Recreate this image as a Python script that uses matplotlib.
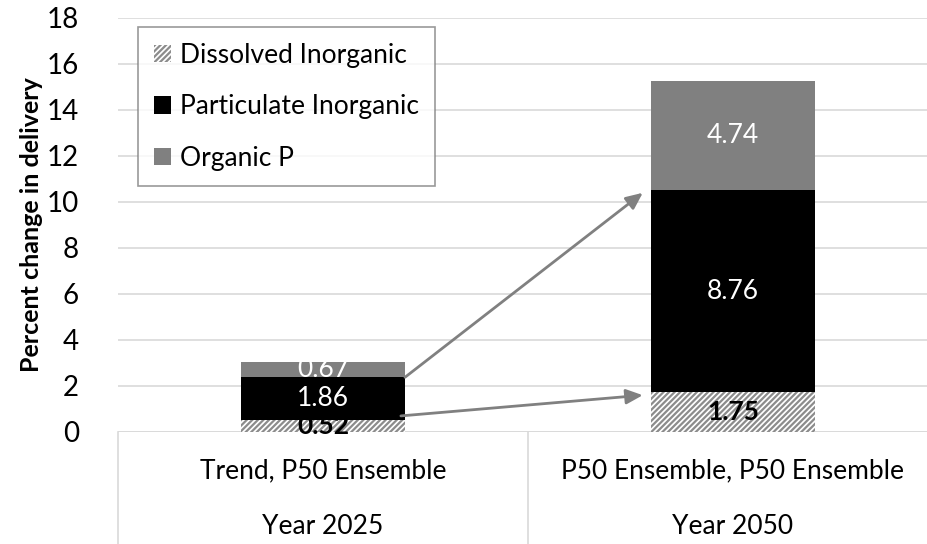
import matplotlib.pyplot as plt
import matplotlib.transforms as mtransforms
from matplotlib.patches import Patch

plt.rcParams['font.family'] = ['Lato', 'DejaVu Sans']
plt.rcParams['hatch.linewidth'] = 1.6

scenarios = ['Trend, P50 Ensemble', 'P50 Ensemble, P50 Ensemble']
years = ['Year 2025', 'Year 2050']
dissolved = [0.52, 1.75]
particulate = [1.86, 8.76]
organic = [0.67, 4.74]

fig = plt.figure(figsize=(9.28, 5.44), dpi=100)
ax = fig.add_axes([118/928, 1-432/544, 820/928, 414/544])

x = [0, 1]
w = 0.4
b1 = ax.bar(x, dissolved, w, color='white', edgecolor='#8c8c8c', hatch='//////', linewidth=0, zorder=2)
b2 = ax.bar(x, particulate, w, bottom=dissolved, color='black', zorder=2)
bot3 = [d + p for d, p in zip(dissolved, particulate)]
b3 = ax.bar(x, organic, w, bottom=bot3, color='#808080', zorder=2)

ax.bar_label(b1, labels=[f'{v:.2f}' for v in dissolved], label_type='center',
             fontsize=19, fontweight='bold', color='black', zorder=3)
ax.bar_label(b2, labels=[f'{v:.2f}' for v in particulate], label_type='center',
             fontsize=19, color='white')
ax.bar_label(b3, labels=[f'{v:.2f}' for v in organic], label_type='center',
             fontsize=19, color='white')

# arrows between the two bars
arrow_kw = dict(arrowstyle='-|>,head_length=1.0,head_width=0.45', color='#808080', lw=2,
                shrinkA=0, shrinkB=0)
ax.annotate('', xy=(1 - w/2 - 0.02, 10.4), xytext=(w/2, bot3[0]), arrowprops=arrow_kw, zorder=4)
ax.annotate('', xy=(1 - w/2 - 0.02, 1.6), xytext=(w/2 - 0.01, 0.7), arrowprops=arrow_kw, zorder=4)

ax.set_xlim(-0.5, 1.5)
ax.set_ylim(0, 18)
ax.set_yticks(range(0, 19, 2))
ax.tick_params(axis='y', length=0, labelsize=20, pad=28)
ax.set_xticks([])
ax.grid(axis='y', color='#d9d9d9', lw=1.2, zorder=0)
for s in ax.spines.values():
    s.set_visible(False)
ax.axhline(0, color='#d9d9d9', lw=1.2, zorder=1)
ax.set_ylabel('Percent change in delivery', fontsize=18, fontweight='bold', labelpad=3)

# category table under the axis
trans = mtransforms.blended_transform_factory(ax.transData, ax.transAxes)
ylow = -112/414
for xv in [-0.5, 0.5, 1.5]:
    ax.plot([xv, xv], [0, ylow], color='#d9d9d9', lw=1.2, transform=trans, clip_on=False)
for xv, s, yr in zip(x, scenarios, years):
    ax.text(xv, -39/414, s, transform=trans, ha='center', va='center', fontsize=19)
    ax.text(xv, -94/414, yr, transform=trans, ha='center', va='center', fontsize=19)

handles = [Patch(facecolor='white', edgecolor='#8c8c8c', hatch='//////', linewidth=0),
           Patch(facecolor='black'),
           Patch(facecolor='#808080')]
leg = ax.legend(handles, ['Dissolved Inorganic', 'Particulate Inorganic', 'Organic P'],
                loc='upper left', bbox_to_anchor=(138/928, 1-27/544), bbox_transform=fig.transFigure,
                fontsize=19, frameon=True, fancybox=False, edgecolor='#808080',
                handlelength=0.65, handleheight=0.65, handletextpad=0.35,
                labelspacing=1.0, borderpad=0.6, borderaxespad=0)
leg.get_frame().set_linewidth(1.2)

fig.savefig('out.png', dpi=100)
